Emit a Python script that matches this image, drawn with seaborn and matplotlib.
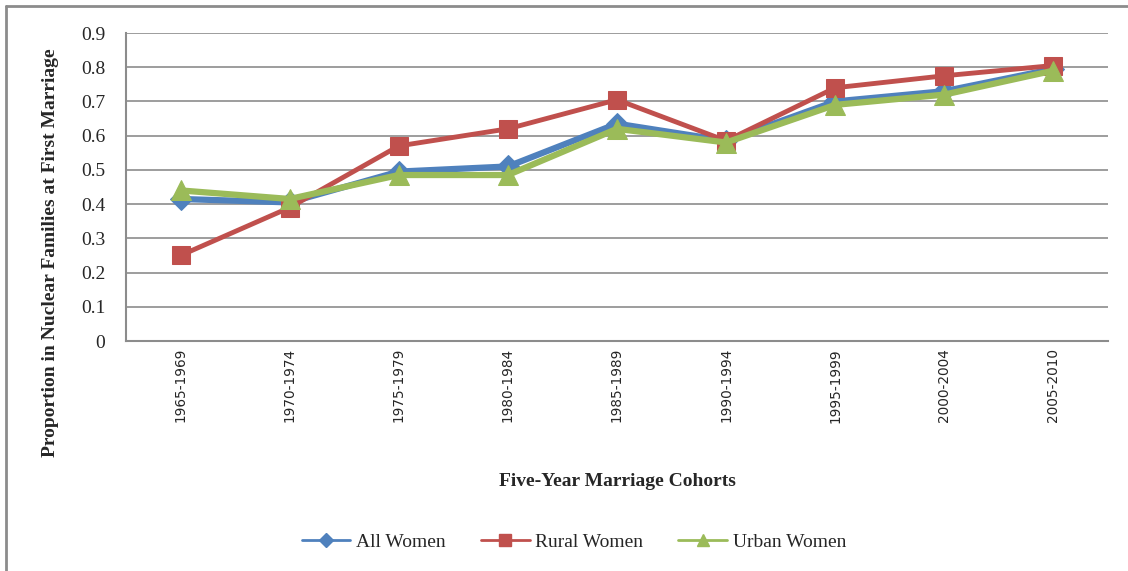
import numpy as np
import pandas as pd
import matplotlib
matplotlib.use("Agg")
import matplotlib.pyplot as plt
import seaborn as sns
from matplotlib.lines import Line2D

# 数据：五年婚姻队列
cohorts = ['1965-1969', '1970-1974', '1975-1979', '1980-1984', '1985-1989',
           '1990-1994', '1995-1999', '2000-2004', '2005-2010']
all_women = [0.415, 0.405, 0.495, 0.51, 0.635, 0.585, 0.70, 0.73, 0.795]
rural_women = [0.25, 0.39, 0.57, 0.62, 0.705, 0.585, 0.74, 0.775, 0.805]
urban_women = [0.44, 0.415, 0.485, 0.485, 0.62, 0.58, 0.69, 0.72, 0.79]

series_names = ['All Women', 'Rural Women', 'Urban Women']
colors = {'All Women': '#4F81BD', 'Rural Women': '#C0504D', 'Urban Women': '#9BBB59'}
markers = {'All Women': 'D', 'Rural Women': 's', 'Urban Women': '^'}

df = pd.DataFrame({
    'cohort': cohorts * 3,
    'value': all_women + rural_women + urban_women,
    'group': [s for s in series_names for _ in cohorts],
})

sns.set_style('white')
plt.rcParams['font.family'] = ['Liberation Serif', 'DejaVu Serif']

fig = plt.figure(figsize=(11.28, 5.71), dpi=100)
ax = fig.add_axes([126 / 1128, 1 - 341 / 571, (1108 - 126) / 1128, (341 - 33) / 571])

# 画三条线，逐条控制线宽和标记大小
widths = {'All Women': 4.5, 'Rural Women': 3.5, 'Urban Women': 4.5}
msizes = {'All Women': 11, 'Rural Women': 13, 'Urban Women': 14}
for name in series_names:
    sub = df[df['group'] == name]
    sns.lineplot(data=sub, x='cohort', y='value', ax=ax, color=colors[name],
                 marker=markers[name], markersize=msizes[name],
                 markeredgecolor=colors[name], linewidth=widths[name],
                 sort=False, legend=False)

ax.set_ylim(0, 0.9)
ax.set_yticks(np.arange(0, 0.91, 0.1))
ax.set_yticklabels(['0'] + [f'{v:.1f}' for v in np.arange(0.1, 0.91, 0.1)])
ax.yaxis.grid(True, color='#8C8C8C', linewidth=1.2)
ax.set_xlim(-0.5, len(cohorts) - 0.5)
ax.set_xticks(range(len(cohorts)))
ax.set_xticklabels(cohorts, rotation=90, family=['DejaVu Sans'], fontsize=9.8)
ax.set_xticks(np.arange(-0.5, len(cohorts), 1.0), minor=True)
ax.tick_params(axis='x', which='major', length=0, pad=5)
ax.tick_params(axis='x', which='minor', length=6, width=1.2, color='#8C8C8C', direction='out')
ax.tick_params(axis='y', length=6, width=1.2, color='#8C8C8C', direction='out', labelsize=14, pad=9)
for side in ['top', 'right']:
    ax.spines[side].set_visible(False)
for side in ['left', 'bottom']:
    ax.spines[side].set_color('#8C8C8C')
    ax.spines[side].set_linewidth(1.5)

ax.set_xlabel('Five-Year Marriage Cohorts', fontsize=14, fontweight='bold', labelpad=36)
ax.set_ylabel('Proportion in Nuclear Families at First Marriage', fontsize=14,
              fontweight='bold')
ax.yaxis.set_label_coords(-0.068, 0.286)

handles = [Line2D([0], [0], color=colors[n], marker=markers[n], linewidth=2,
                  markersize=8 if n != 'All Women' else 7) for n in series_names]
fig.legend(handles, series_names, loc='center', bbox_to_anchor=(574 / 1128, 1 - 542 / 571),
           ncol=3, frameon=False, fontsize=14, handlelength=2.5, columnspacing=1.8,
           handletextpad=0.3)

# 外框（仅上、左）
fig.add_artist(Line2D([6 / 1128, 1], [1 - 6 / 571, 1 - 6 / 571], color='#8C8C8C', linewidth=2))
fig.add_artist(Line2D([6 / 1128, 6 / 1128], [0, 1 - 6 / 571], color='#8C8C8C', linewidth=2))

fig.savefig('out.png', dpi=100)
